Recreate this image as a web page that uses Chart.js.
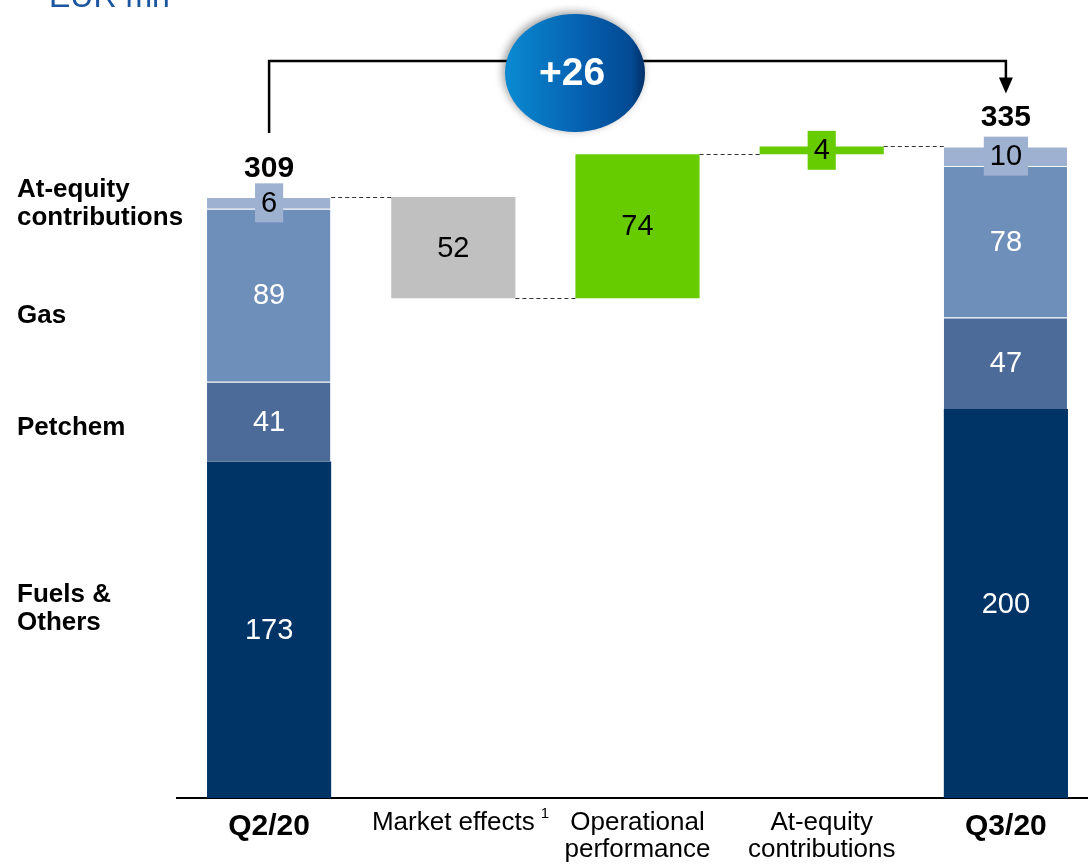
<!DOCTYPE html>
<html>
<head>
<meta charset="utf-8">
<script src="https://cdn.jsdelivr.net/npm/chart.js@4/dist/chart.umd.min.js"></script>
<style>
  html, body { margin: 0; padding: 0; background: #fff; overflow: hidden; }
  canvas { display: block; }
</style>
</head>
<body>
<canvas id="bridge" width="1098" height="865"></canvas>
<script>
// ---- data ----
const categories = [['Q2/20'], ['Market effects'], ['Operational', 'performance'], ['At-equity', 'contributions'], ['Q3/20']];
const segmentNames = ['Fuels & Others', 'Petchem', 'Gas', 'At-equity contributions'];
const q2Segments = [173, 41, 89, 6];
const q3Segments = [200, 47, 78, 10];
const bridgeSteps = [-52, 74, 4];
const rowLabels = [['At-equity', 'contributions'], ['Gas'], ['Petchem'], ['Fuels &', 'Others']];
const unitLabel = 'EUR mn';
const footnoteMark = '1';

// ---- styles ----
const FONT = '"Liberation Sans", Arial, Helvetica, sans-serif';
const segmentColors = ['#003366', '#4d6b99', '#6f8fbb', '#9eb1d1'];
const segmentText = ['#ffffff', '#ffffff', '#ffffff', '#000000'];
const negColor = '#c0c0c0';
const posColor = '#66cc00';

const sum = a => a.reduce((s, v) => s + v, 0);
const q2Total = sum(q2Segments);
const q3Total = sum(q3Segments);
const lastIdx = categories.length - 1;

// stacked segments as floating ranges
const datasets = segmentNames.map((name, k) => {
  const data = categories.map(() => null);
  const b2 = sum(q2Segments.slice(0, k));
  const b3 = sum(q3Segments.slice(0, k));
  data[0] = [b2, b2 + q2Segments[k]];
  data[lastIdx] = [b3, b3 + q3Segments[k]];
  return {
    label: name,
    data,
    backgroundColor: segmentColors[k],
    borderColor: 'rgba(255,255,255,0.45)',
    borderWidth: k === 0 ? 0 : { top: 1, right: 1, left: 0, bottom: 0 },
    borderSkipped: false,
    grouped: false,
    _textColor: segmentText[k]
  };
});

// bridge steps as floating bars
const levels = [q2Total];
const bridgeData = categories.map(() => null);
const bridgeColors = categories.map(() => 'transparent');
bridgeSteps.forEach((step, i) => {
  const start = levels[levels.length - 1];
  bridgeData[i + 1] = [start, start + step];
  bridgeColors[i + 1] = step < 0 ? negColor : posColor;
  levels.push(start + step);
});
datasets.push({
  label: 'Bridge',
  data: bridgeData,
  backgroundColor: bridgeColors,
  borderWidth: 0,
  grouped: false,
  _textColor: '#000000'
});

// ---- annotations drawn on top of the bars ----
const overlay = {
  id: 'overlay',
  afterDatasetsDraw(chart) {
    const { ctx, chartArea: area, scales: { x, y } } = chart;
    const bridgeMeta = chart.getDatasetMeta(datasets.length - 1);
    const halfW = bridgeMeta.data[1].width / 2;
    ctx.save();

    // dashed connectors between neighbouring bars
    ctx.strokeStyle = '#333';
    ctx.lineWidth = 1;
    ctx.setLineDash([4, 3]);
    for (let i = 0; i < lastIdx; i++) {
      const py = Math.round(y.getPixelForValue(levels[i])) + 0.5;
      ctx.beginPath();
      ctx.moveTo(x.getPixelForValue(i) + halfW, py);
      ctx.lineTo(x.getPixelForValue(i + 1) - halfW, py);
      ctx.stroke();
    }
    ctx.setLineDash([]);

    // value labels
    ctx.font = '29px ' + FONT;
    ctx.textAlign = 'center';
    ctx.textBaseline = 'middle';
    chart.data.datasets.forEach((ds, di) => {
      const meta = chart.getDatasetMeta(di);
      ds.data.forEach((v, i) => {
        if (!v) return;
        const el = meta.data[i];
        const top = y.getPixelForValue(Math.max(v[0], v[1]));
        const bot = y.getPixelForValue(Math.min(v[0], v[1]));
        const cy = (top + bot) / 2;
        const txt = String(Math.abs(v[1] - v[0]));
        const tw = ctx.measureText(txt).width;
        if (bot - top < 32) {
          const bg = Array.isArray(ds.backgroundColor) ? ds.backgroundColor[i] : ds.backgroundColor;
          const bw = tw + 12, bh = 39;
          ctx.fillStyle = bg;
          ctx.fillRect(el.x - bw / 2, cy - bh / 2, bw, bh);
        }
        ctx.fillStyle = ds._textColor;
        ctx.fillText(txt, el.x, cy + 1);
      });
    });

    // totals above the end bars
    ctx.font = 'bold 30px ' + FONT;
    ctx.fillStyle = '#000';
    ctx.textBaseline = 'alphabetic';
    [[0, q2Total], [lastIdx, q3Total]].forEach(([i, t]) => {
      ctx.fillText(String(t), x.getPixelForValue(i), y.getPixelForValue(t) - 20);
    });

    // bracket from start total to end total
    const xl = x.getPixelForValue(0), xr = x.getPixelForValue(lastIdx);
    const yTop = area.top + 41;
    const yLeft = y.getPixelForValue(q2Total) - 64;
    const tip = y.getPixelForValue(q3Total) - 53;
    ctx.strokeStyle = '#000';
    ctx.lineWidth = 2.5;
    ctx.beginPath();
    ctx.moveTo(xl, yLeft);
    ctx.lineTo(xl, yTop);
    ctx.lineTo(xr, yTop);
    ctx.lineTo(xr, tip - 14);
    ctx.stroke();
    ctx.fillStyle = '#000';
    ctx.beginPath();
    ctx.moveTo(xr - 7, tip - 16);
    ctx.lineTo(xr + 7, tip - 16);
    ctx.lineTo(xr, tip);
    ctx.closePath();
    ctx.fill();

    // change bubble
    const cx = 575, cyB = 73, rx = 70, ry = 59;
    ctx.save();
    ctx.shadowColor = 'rgba(0,0,0,0.4)';
    ctx.shadowBlur = 9;
    ctx.shadowOffsetX = -2;
    ctx.shadowOffsetY = -2;
    const grad = ctx.createLinearGradient(cx - rx, 0, cx + rx, 0);
    grad.addColorStop(0, '#0a8ad2');
    grad.addColorStop(0.55, '#0660b0');
    grad.addColorStop(0.9, '#034a93');
    grad.addColorStop(1, '#022f66');
    ctx.fillStyle = grad;
    ctx.beginPath();
    ctx.ellipse(cx, cyB, rx, ry, 0, 0, Math.PI * 2);
    ctx.fill();
    ctx.restore();
    const delta = q3Total - q2Total;
    ctx.font = 'bold 39px ' + FONT;
    ctx.fillStyle = '#fff';
    ctx.textAlign = 'center';
    ctx.textBaseline = 'alphabetic';
    ctx.fillText((delta >= 0 ? '+' : '') + delta, cx - 3, 85);

    // row labels on the left
    ctx.font = 'bold 26px ' + FONT;
    ctx.fillStyle = '#000';
    ctx.textAlign = 'left';
    const rowBaselines = [197, 323, 435, 602];
    rowLabels.forEach((lines, r) => {
      lines.forEach((ln, j) => ctx.fillText(ln, 17, rowBaselines[r] + j * 28));
    });

    // unit label
    ctx.font = '32px ' + FONT;
    ctx.fillStyle = '#1c55a0';
    ctx.fillText(unitLabel, 49, 7);

    // footnote marker next to "Market effects"
    ctx.font = '15px ' + FONT;
    ctx.fillStyle = '#000';
    ctx.textAlign = 'center';
    ctx.fillText(footnoteMark, 545, 818);

    ctx.restore();
  }
};

new Chart(document.getElementById('bridge'), {
  type: 'bar',
  data: { labels: categories, datasets },
  options: {
    responsive: false,
    animation: false,
    events: [],
    layout: { padding: { left: 177, right: 0, top: 20, bottom: 0 } },
    datasets: { bar: { barPercentage: 0.674, categoryPercentage: 1 } },
    plugins: { legend: { display: false }, tooltip: { enabled: false } },
    scales: {
      x: {
        grid: { display: false, drawTicks: false, tickLength: 0 },
        border: { display: true, color: '#000', width: 2 },
        ticks: {
          padding: 11,
          color: '#000',
          maxRotation: 0,
          autoSkip: false,
          font: (c) => (c.index === 0 || c.index === lastIdx)
            ? { family: FONT, size: 30, weight: 'bold', lineHeight: '36px' }
            : { family: FONT, size: 26, weight: 'normal', lineHeight: '27px' }
        },
        afterFit(scale) { scale.height = 67; }
      },
      y: {
        display: false,
        min: 0,
        max: 400
      }
    }
  },
  plugins: [overlay]
});
</script>
</body>
</html>
